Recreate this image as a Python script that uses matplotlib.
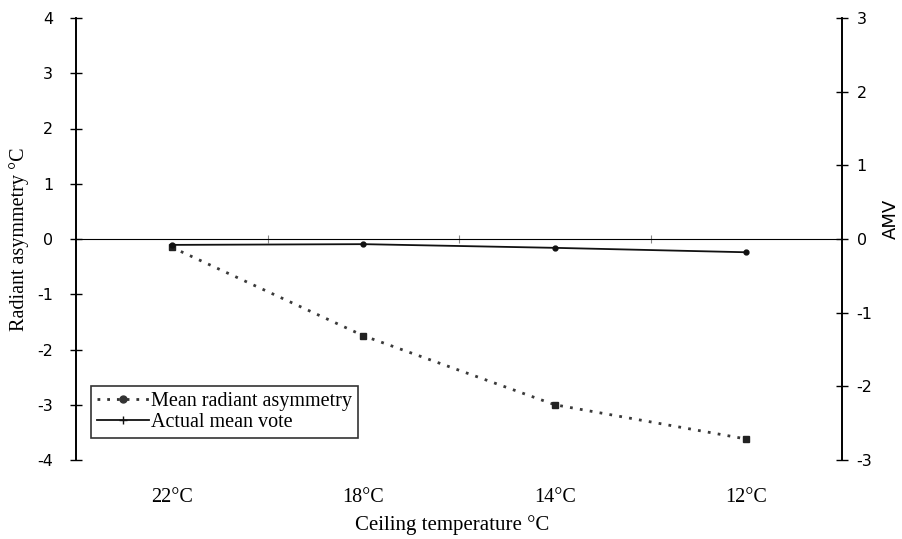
import matplotlib
matplotlib.use("Agg")
import matplotlib.pyplot as plt
from matplotlib.lines import Line2D

categories = ["22°C", "18°C", "14°C", "12°C"]
radiant_asymmetry = [-0.15, -1.75, -3.0, -3.62]
amv = [-0.08, -0.07, -0.12, -0.18]
left_ticks = [-4, -3, -2, -1, 0, 1, 2, 3, 4]
right_ticks = [-3, -2, -1, 0, 1, 2, 3]

serif = ["Liberation Serif", "DejaVu Serif"]
plt.rcParams["font.family"] = serif
plt.rcParams["axes.unicode_minus"] = False

fig = plt.figure(figsize=(9.02, 5.39), dpi=100)
ax = fig.add_axes([76/902, 1-460/539, (842-76)/902, (460-18)/539])
ax2 = ax.twinx()

x = list(range(len(categories)))
ax.plot(x, radiant_asymmetry, linestyle=(0, (1, 2.6)), color="#3a3a3a", lw=2.0,
        marker="s", markersize=4.5, markerfacecolor="#222222", markeredgecolor="#222222")
ax2.plot(x, amv, linestyle="-", color="#111111", lw=1.3,
         marker="o", markersize=3.5, markerfacecolor="#111111")

ax.set_xlim(-0.5, 3.5)
ax.set_ylim(-4, 4)
ax2.set_ylim(-3, 3)
ax.set_yticks(left_ticks)
ax2.set_yticks(right_ticks)
ax.set_xticks(x)
ax.set_xticklabels(categories, fontsize=14.5)
ax.tick_params(axis="x", length=0, pad=20)
ax.tick_params(axis="y", direction="inout", length=9, width=1.0, labelsize=13, pad=12)
ax2.tick_params(axis="y", direction="inout", length=9, width=1.0, labelsize=13, pad=6)
for lbl in ax2.get_yticklabels():
    lbl.set_family(["DejaVu Sans"])
    lbl.set_fontsize(11.5)
for lbl in ax.get_yticklabels():
    lbl.set_family(["DejaVu Sans"])
    lbl.set_fontsize(11.5)

for a in (ax, ax2):
    a.spines["top"].set_visible(False)
    a.spines["bottom"].set_visible(False)
    a.spines["left"].set_linewidth(1.2)
    a.spines["right"].set_linewidth(1.2)

# zero line as a category axis with boundary ticks
sec = ax.secondary_xaxis(0.5)
sec.set_xticks([0.5, 1.5, 2.5])
sec.set_xticklabels([])
sec.tick_params(direction="inout", length=6, width=0.8, colors="#888888")
sec.spines["bottom"].set_linewidth(1.6)
sec.spines["bottom"].set_color("#111111")

ax.set_xlabel("Ceiling temperature °C", fontsize=15)
ax.xaxis.set_label_coords((452 - 76) / 766, -55 / 442)
ax.set_ylabel("Radiant asymmetry °C", fontsize=14.5)
ax.yaxis.set_label_coords((29 - 76) / 766, 0.5)
ax2.set_ylabel("AMV", fontsize=13, family=["DejaVu Sans"])
ax2.yaxis.set_label_coords(1 + 40/766, 0.545)

handles = [
    Line2D([], [], linestyle=(0, (1, 2.5)), color="#333333", lw=2.0, marker="o",
           markersize=5, markevery=[1]),
    Line2D([], [], linestyle="-", color="#111111", lw=1.3, marker="+",
           markersize=6, markevery=[1]),
]
leg = ax.legend(handles, ["Mean radiant asymmetry", "Actual mean vote"],
                loc="lower left", bbox_to_anchor=(15/766, 22/442),
                fontsize=14.5, frameon=True, fancybox=False, edgecolor="black",
                handlelength=2.6, handletextpad=0.1, borderpad=0.3,
                labelspacing=0.1, borderaxespad=0)
leg.get_frame().set_linewidth(1.2)

fig.savefig("out.png", dpi=100)
